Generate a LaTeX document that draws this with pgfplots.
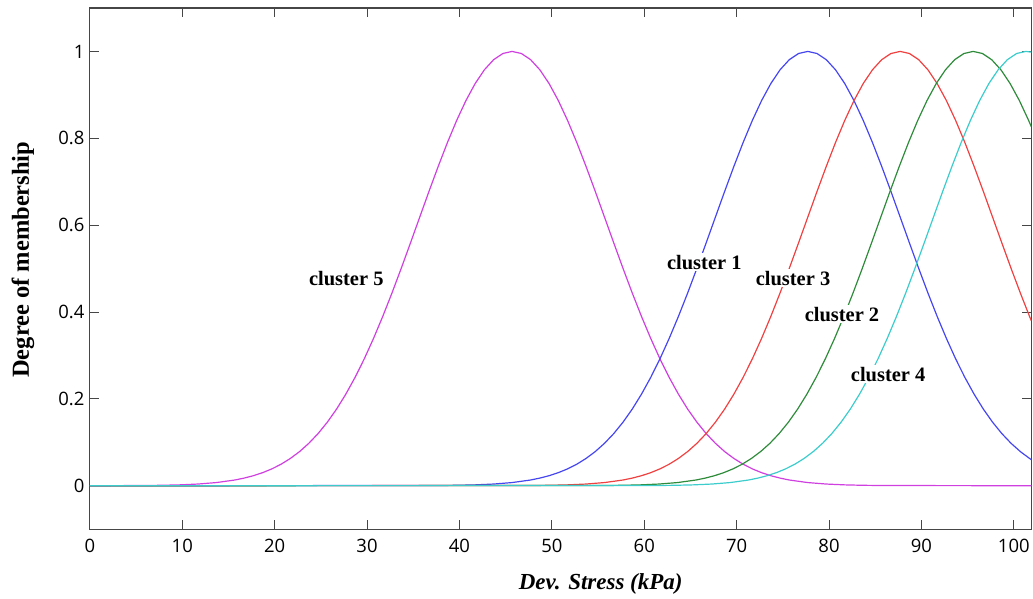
\documentclass[border=0pt]{standalone}
\usepackage{fontspec}
\usepackage{pgfplots}
\pgfplotsset{compat=1.18}
\newfontfamily\ticksfont{Open Sans}
\newfontfamily\labelfont{Liberation Serif}
\definecolor{axisgray}{RGB}{70,70,70}
\definecolor{cfive}{RGB}{208,64,224}
\definecolor{cone}{RGB}{70,70,240}
\definecolor{cthree}{RGB}{240,64,64}
\definecolor{ctwo}{RGB}{46,139,58}
\definecolor{cfour}{RGB}{60,204,204}
\begin{document}
\begin{tikzpicture}
\begin{axis}[
  name=ax,
  scale only axis,
  width=943pt, height=522pt,
  xmin=0, xmax=101.9, ymin=-0.1, ymax=1.1,
  xtick={0,10,...,100},
  ytick={0,0.2,0.4,0.6,0.8,1},
  tick align=inside,
  major tick length=9pt,
  axis line style={draw=axisgray, line width=1.2pt},
  every tick/.style={draw=axisgray, line width=1pt},
  tick label style={font=\ticksfont\fontsize{18.5}{20}\selectfont},
  /pgf/number format/assume math mode=true,
  xticklabel style={yshift=-6pt},
  yticklabel style={xshift=-2pt},
  xlabel={Dev. Stress (kPa)},
  ylabel={Degree of membership},
  every axis x label/.style={at={(rel axis cs:0.5425,0)}, anchor=base, yshift=-60pt,
    font=\labelfont\bfseries\itshape\fontsize{23}{26}\selectfont},
  every axis y label/.style={at={(rel axis cs:0,0.517)}, xshift=-67pt, rotate=90, anchor=center,
    font=\labelfont\bfseries\fontsize{24.5}{27}\selectfont},
  every axis plot/.append style={line width=1.2pt},
  clip=true,
]
% cluster 5
\addplot[cfive] coordinates {
(0,0) (5.7,0.0005) (7.7,0.0010) (9.7,0.0020) (11.7,0.0039) (13.7,0.0073) (15.7,0.0132)
(16.7,0.0176) (17.7,0.0231) (18.7,0.0301) (19.7,0.0388) (20.7,0.0496) (21.7,0.0628)
(22.7,0.0787) (23.7,0.0977) (24.7,0.1201) (25.7,0.1463) (26.7,0.1764) (27.7,0.2108)
(28.7,0.2494) (29.7,0.2922) (30.7,0.3392) (31.7,0.3899) (32.7,0.4439) (33.7,0.5006)
(34.7,0.5591) (35.7,0.6184) (36.7,0.6776) (37.7,0.7352) (38.7,0.7902) (39.7,0.8411)
(40.7,0.8868) (41.7,0.9260) (42.7,0.9577) (43.7,0.9810) (44.7,0.9952) (45.7,1.0000)
(46.7,0.9952) (47.7,0.9810) (48.7,0.9577) (49.7,0.9260) (50.7,0.8868) (51.7,0.8411)
(52.7,0.7902) (53.7,0.7352) (54.7,0.6776) (55.7,0.6184) (56.7,0.5591) (57.7,0.5006)
(58.7,0.4439) (59.7,0.3899) (60.7,0.3392) (61.7,0.2922) (62.7,0.2494) (63.7,0.2108)
(64.7,0.1764) (65.7,0.1463) (66.7,0.1201) (67.7,0.0977) (68.7,0.0787) (69.7,0.0628)
(70.7,0.0496) (71.7,0.0388) (72.7,0.0301) (73.7,0.0231) (74.7,0.0176) (75.7,0.0132)
(77.7,0.0073) (79.7,0.0039) (81.7,0.0020) (83.7,0.0010) (85.7,0.0005) (101.9,0)
};
% cluster 1
\addplot[cone] coordinates {
(0,0) (37.7,0.0005) (39.7,0.0010) (41.7,0.0020) (43.7,0.0039) (45.7,0.0073) (47.7,0.0132)
(48.7,0.0176) (49.7,0.0231) (50.7,0.0301) (51.7,0.0388) (52.7,0.0496) (53.7,0.0628)
(54.7,0.0787) (55.7,0.0977) (56.7,0.1201) (57.7,0.1463) (58.7,0.1764) (59.7,0.2108)
(60.7,0.2494) (61.7,0.2922) (62.7,0.3392) (63.7,0.3899) (64.7,0.4439) (65.7,0.5006)
(66.7,0.5591) (67.7,0.6184) (68.7,0.6776) (69.7,0.7352) (70.7,0.7902) (71.7,0.8411)
(72.7,0.8868) (73.7,0.9260) (74.7,0.9577) (75.7,0.9810) (76.7,0.9952) (77.7,1.0000)
(78.7,0.9952) (79.7,0.9810) (80.7,0.9577) (81.7,0.9260) (82.7,0.8868) (83.7,0.8411)
(84.7,0.7902) (85.7,0.7352) (86.7,0.6776) (87.7,0.6184) (88.7,0.5591) (89.7,0.5006)
(90.7,0.4439) (91.7,0.3899) (92.7,0.3392) (93.7,0.2922) (94.7,0.2494) (95.7,0.2108)
(96.7,0.1764) (97.7,0.1463) (98.7,0.1201) (99.7,0.0977) (100.7,0.0787) (101.7,0.0628)
(101.9,0.0599)
};
% cluster 3
\addplot[cthree] coordinates {
(0,0) (47.7,0.0005) (49.7,0.0010) (51.7,0.0020) (53.7,0.0039) (55.7,0.0073) (57.7,0.0132)
(58.7,0.0176) (59.7,0.0231) (60.7,0.0301) (61.7,0.0388) (62.7,0.0496) (63.7,0.0628)
(64.7,0.0787) (65.7,0.0977) (66.7,0.1201) (67.7,0.1463) (68.7,0.1764) (69.7,0.2108)
(70.7,0.2494) (71.7,0.2922) (72.7,0.3392) (73.7,0.3899) (74.7,0.4439) (75.7,0.5006)
(76.7,0.5591) (77.7,0.6184) (78.7,0.6776) (79.7,0.7352) (80.7,0.7902) (81.7,0.8411)
(82.7,0.8868) (83.7,0.9260) (84.7,0.9577) (85.7,0.9810) (86.7,0.9952) (87.7,1.0000)
(88.7,0.9952) (89.7,0.9810) (90.7,0.9577) (91.7,0.9260) (92.7,0.8868) (93.7,0.8411)
(94.7,0.7902) (95.7,0.7352) (96.7,0.6776) (97.7,0.6184) (98.7,0.5591) (99.7,0.5006)
(100.7,0.4439) (101.7,0.3899) (101.9,0.3794)
};
% cluster 2
\addplot[ctwo] coordinates {
(0,0) (55.6,0.0005) (57.6,0.0010) (59.6,0.0020) (61.6,0.0039) (63.6,0.0073) (65.6,0.0132)
(66.6,0.0176) (67.6,0.0231) (68.6,0.0301) (69.6,0.0388) (70.6,0.0496) (71.6,0.0628)
(72.6,0.0787) (73.6,0.0977) (74.6,0.1201) (75.6,0.1463) (76.6,0.1764) (77.6,0.2108)
(78.6,0.2494) (79.6,0.2922) (80.6,0.3392) (81.6,0.3899) (82.6,0.4439) (83.6,0.5006)
(84.6,0.5591) (85.6,0.6184) (86.6,0.6776) (87.6,0.7352) (88.6,0.7902) (89.6,0.8411)
(90.6,0.8868) (91.6,0.9260) (92.6,0.9577) (93.6,0.9810) (94.6,0.9952) (95.6,1.0000)
(96.6,0.9952) (97.6,0.9810) (98.6,0.9577) (99.6,0.9260) (100.6,0.8868) (101.6,0.8411)
(101.9,0.8263)
};
% cluster 4
\addplot[cfour] coordinates {
(0,0) (61.3,0.0005) (63.3,0.0010) (65.3,0.0020) (67.3,0.0039) (69.3,0.0073) (71.3,0.0132)
(72.3,0.0176) (73.3,0.0231) (74.3,0.0301) (75.3,0.0388) (76.3,0.0496) (77.3,0.0628)
(78.3,0.0787) (79.3,0.0977) (80.3,0.1201) (81.3,0.1463) (82.3,0.1764) (83.3,0.2108)
(84.3,0.2494) (85.3,0.2922) (86.3,0.3392) (87.3,0.3899) (88.3,0.4439) (89.3,0.5006)
(90.3,0.5591) (91.3,0.6184) (92.3,0.6776) (93.3,0.7352) (94.3,0.7902) (95.3,0.8411)
(96.3,0.8868) (97.3,0.9260) (98.3,0.9577) (99.3,0.9810) (100.3,0.9952) (101.3,1.0000)
(101.9,0.9983)
};
% curve labels
\begin{scope}[every node/.style={fill=white, inner sep=1.5pt,
    font=\labelfont\bfseries\fontsize{20.5}{23}\selectfont}]
\node at (axis cs:27.75,0.478) {cluster 5};
\node at (axis cs:66.5,0.515) {cluster 1};
\node at (axis cs:76.1,0.478) {cluster 3};
\node at (axis cs:81.4,0.395) {cluster 2};
\node at (axis cs:86.4,0.257) {cluster 4};
\end{scope}
\end{axis}
\path ([xshift=-90pt,yshift=-69pt]ax.south west) rectangle ([yshift=8pt]ax.north east);
\end{tikzpicture}
\end{document}
